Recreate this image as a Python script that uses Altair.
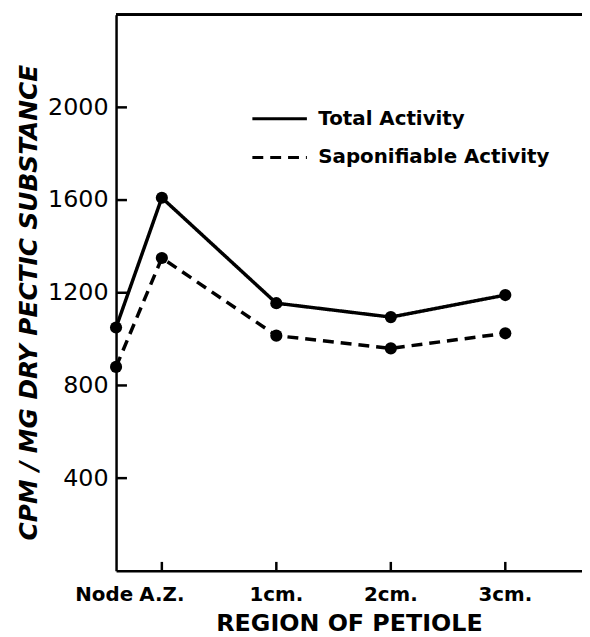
import altair as alt
import pandas as pd

regions = ["Node", "A.Z.", "1cm.", "2cm.", "3cm."]
region_pos = [-0.4, 0, 1, 2, 3]
total_activity = [1050, 1610, 1155, 1095, 1190]
sapon_activity = [880, 1350, 1015, 960, 1025]
series_names = ["Total Activity", "Saponifiable Activity"]
y_tick_values = [400, 800, 1200, 1600, 2000]
x_tick_values = [0, 1, 2, 3]

rows = []
for r, p, t, s in zip(regions, region_pos, total_activity, sapon_activity):
    rows.append({"region": r, "pos": p, "series": series_names[0], "value": t})
    rows.append({"region": r, "pos": p, "series": series_names[1], "value": s})
df = pd.DataFrame(rows)
lab_df = pd.DataFrame({"region": regions, "pos": region_pos})
ytick_df = pd.DataFrame({"value": y_tick_values})
xtick_df = pd.DataFrame({"pos": x_tick_values})

W, H = 470, 561
FONT = "DejaVu Sans"
xs = alt.Scale(domain=[-0.4, 3.67], nice=False, zero=False)
ys = alt.Scale(domain=[0, 2400], nice=False, zero=True)

x_axis = alt.Axis(
    title="REGION OF PETIOLE", labels=False, ticks=False, grid=False,
    domainWidth=2.5, domainColor="black",
    titleFont=FONT, titleFontSize=24, titleFontWeight="bold", titleColor="black",
    titlePadding=41)
y_axis = alt.Axis(
    values=y_tick_values, format="d", ticks=False, grid=False,
    domainWidth=2.5, domainColor="black",
    labelFont=FONT, labelFontSize=24, labelColor="black", labelPadding=8,
    title="CPM / MG DRY PECTIC SUBSTANCE", titleFont=FONT, titleFontSize=25,
    titleFontWeight="bold", titleFontStyle="italic", titleColor="black",
    titleAngle=-90, titleX=-75, titleY=290, titleAlign="center",
    titleBaseline="bottom")

x_enc = alt.X("pos:Q", scale=xs, axis=x_axis)
y_enc = alt.Y("value:Q", scale=ys, axis=y_axis)

base = alt.Chart(df)

lines = base.mark_line(color="black", strokeWidth=3.5).encode(
    x=x_enc,
    y=y_enc,
    strokeDash=alt.StrokeDash(
        "series:N",
        scale=alt.Scale(domain=series_names, range=[[1, 0], [11, 7]]),
        legend=alt.Legend(
            title=None, orient="none", legendX=136, legendY=95,
            symbolType="stroke", symbolSize=3025, symbolStrokeWidth=3,
            symbolStrokeColor="black", clipHeight=20, rowPadding=19,
            labelFont=FONT, labelFontSize=20, labelFontWeight="bold",
            labelColor="black", labelOffset=10, padding=0, labelLimit=400,
        ),
    ),
)

points = base.mark_point(filled=True, size=150, color="black", opacity=1).encode(
    x=x_enc, y=y_enc,
)

yticks = alt.Chart(ytick_df).mark_rule(color="black", strokeWidth=2.5).encode(
    y=y_enc,
    x=alt.value(0), x2=alt.value(11),
)
xticks = alt.Chart(xtick_df).mark_rule(color="black", strokeWidth=2.5).encode(
    x=x_enc,
    y=alt.value(H), y2=alt.value(H - 9),
)
top_border = alt.Chart(ytick_df).mark_rule(color="black", strokeWidth=2.5).encode(
    x=alt.value(0), x2=alt.value(W + 20), y=alt.value(0),
)

xlabels_main = alt.Chart(lab_df).transform_filter(alt.datum.region != "Node").mark_text(
    font=FONT, fontSize=20, fontWeight="bold", color="black",
    align="center", baseline="alphabetic",
).encode(
    x=x_enc,
    y=alt.value(H + 30),
    text="region:N",
)
xlabels_node = alt.Chart(lab_df).transform_filter(alt.datum.region == "Node").mark_text(
    font=FONT, fontSize=20, fontWeight="bold", color="black",
    align="center", baseline="alphabetic", dx=-12,
).encode(
    x=x_enc,
    y=alt.value(H + 30),
    text="region:N",
)

chart = alt.layer(
    lines, points, yticks, xticks, top_border, xlabels_main, xlabels_node
).properties(
    width=W, height=H,
    background="white",
    autosize=alt.AutoSizeParams(type="none"),
    padding={"left": 109, "top": 4, "right": 0, "bottom": 63},
).configure_view(stroke=None)

chart.save("out.html", embed_options={"renderer": "svg", "actions": False})
